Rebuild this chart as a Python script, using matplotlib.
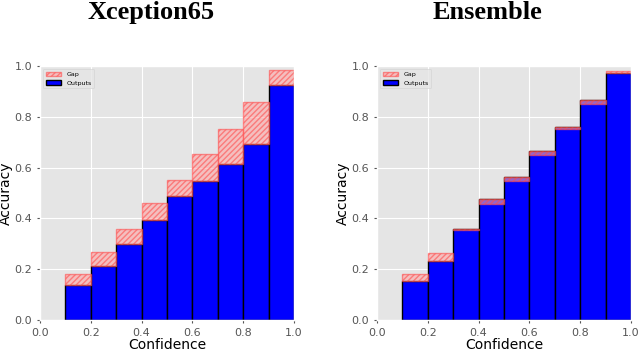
import numpy as np
import matplotlib
matplotlib.use("Agg")
import matplotlib.pyplot as plt

plt.style.use("ggplot")
plt.rcParams["hatch.linewidth"] = 1.0

# reliability diagram data, 10 bins, first bin empty
bin_edges = [0.1, 0.2, 0.3, 0.4, 0.5, 0.6, 0.7, 0.8, 0.9]
ticks = [0.0, 0.2, 0.4, 0.6, 0.8, 1.0]

# Xception65
xcp_acc = [0.138, 0.211, 0.298, 0.394, 0.488, 0.549, 0.615, 0.694, 0.927]
xcp_conf = [0.180, 0.266, 0.358, 0.459, 0.552, 0.652, 0.753, 0.857, 0.984]

# Ensemble
ens_acc = [0.155, 0.232, 0.357, 0.476, 0.562, 0.667, 0.761, 0.866, 0.971]
ens_conf = [0.180, 0.262, 0.355, 0.455, 0.548, 0.648, 0.751, 0.850, 0.981]

titles = ["Xception65", "Ensemble"]
title_x = [151, 487]  # pixel centres of the titles


def draw(ax, acc, conf):
    acc = np.array(acc)
    conf = np.array(conf)
    outputs = ax.bar(bin_edges, acc, width=0.1, align="edge",
                     color="b", edgecolor="black", linewidth=1.0, label="Outputs")
    gap = ax.bar(bin_edges, conf - acc, bottom=acc, width=0.1, align="edge",
                 color=[1, 0.65, 0.65], alpha=0.6, edgecolor=[1, 0.3, 0.3],
                 hatch="//////", linewidth=1.0, label="Gap")
    ax.set_xlim(0, 1)
    ax.set_ylim(0, 1)
    ax.set_xticks(ticks)
    ax.set_yticks(ticks)
    ax.tick_params(labelsize=8, colors="#555555", length=2)
    ax.set_xlabel("Confidence", fontsize=10, color="black", labelpad=0)
    ax.set_ylabel("Accuracy", fontsize=10, color="black", labelpad=1)
    ax.legend(handles=[gap, outputs], loc="upper left", fontsize=4.5,
              frameon=True, facecolor="#e5e5e5", edgecolor="#d0d0d0",
              handlelength=2.5)
    return ax


fig = plt.figure(figsize=(6.4, 3.51), dpi=100)
ax1 = fig.add_axes([40 / 640, 31 / 351, 254 / 640, 254 / 351])
ax2 = fig.add_axes([377 / 640, 31 / 351, 254 / 640, 254 / 351])

draw(ax1, xcp_acc, xcp_conf)
draw(ax2, ens_acc, ens_conf)

for tx, t in zip(title_x, titles):
    fig.text(tx / 640, 1 - 19 / 351, t, ha="center", va="baseline",
             fontsize=19, fontweight="bold", family="Liberation Serif")

fig.savefig("out.png", dpi=100)
